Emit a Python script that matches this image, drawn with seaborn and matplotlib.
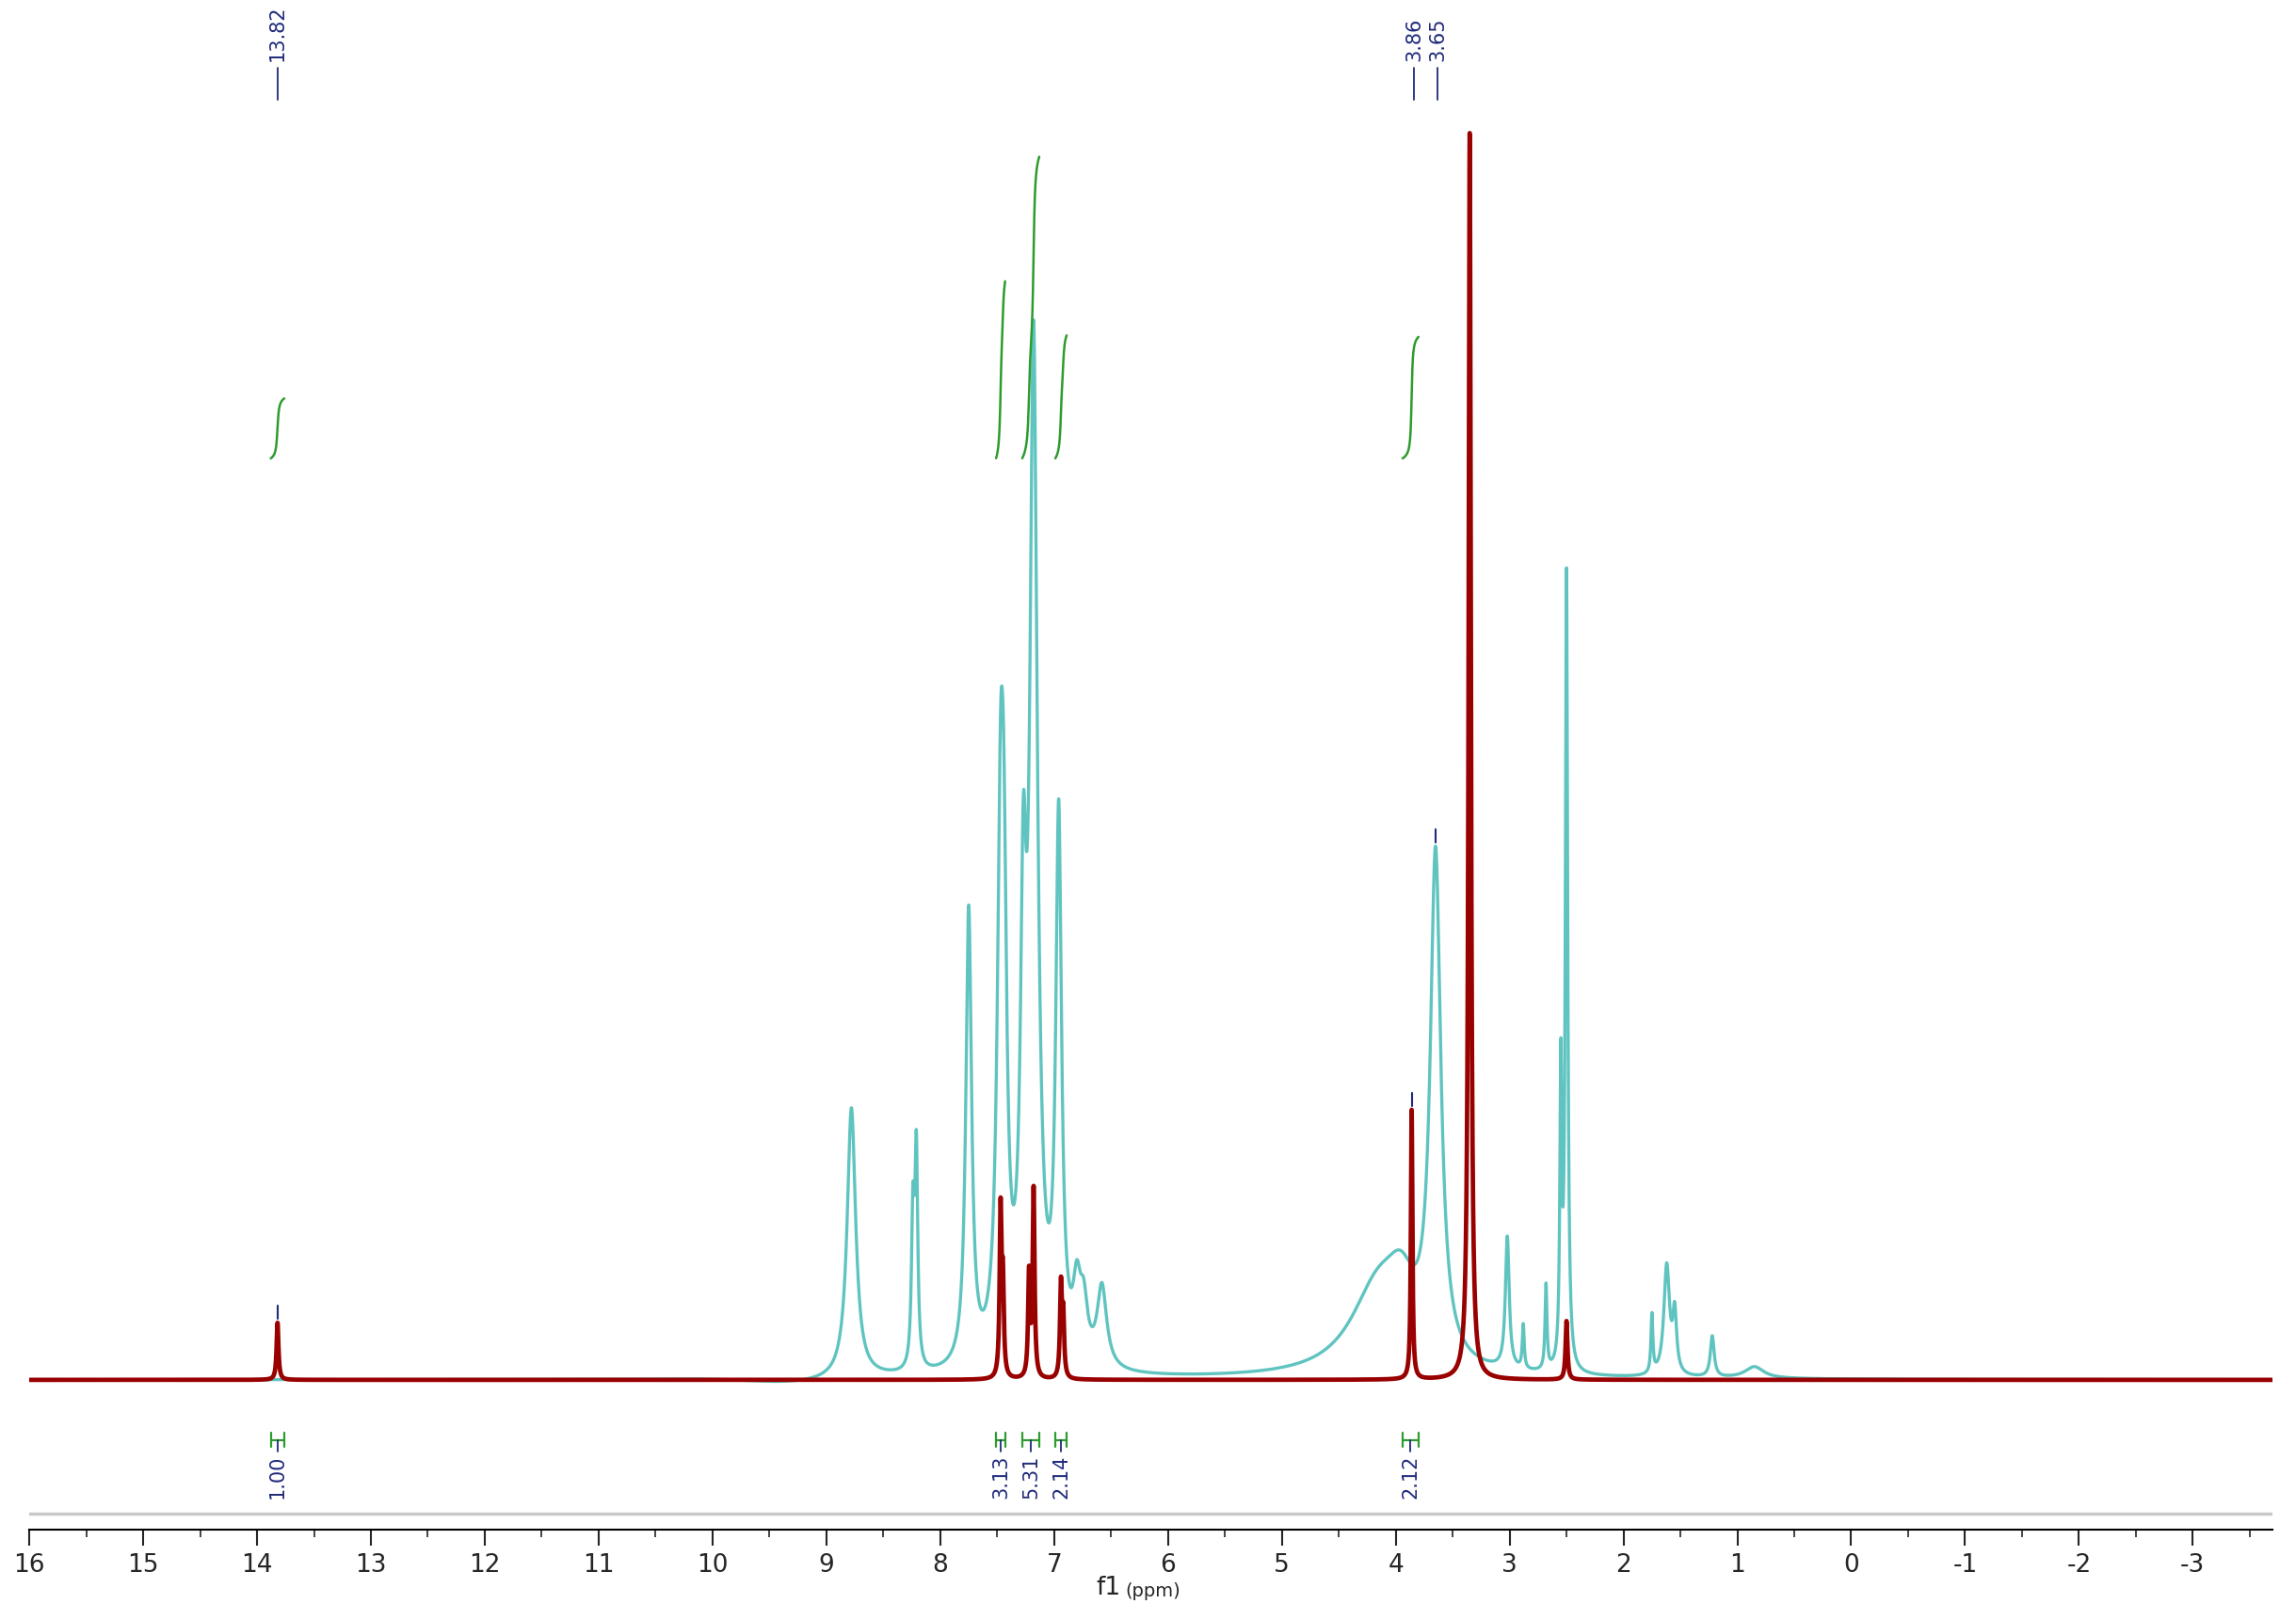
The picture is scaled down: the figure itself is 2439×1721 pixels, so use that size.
import numpy as np
import pandas as pd
import matplotlib
matplotlib.use("Agg")
import matplotlib.pyplot as plt
import seaborn as sns

sns.set_style("white")
plt.rcParams['font.family'] = ['DejaVu Sans']

# ---- data (ppm, height, half-width) ----
red_pos = [13.82, 7.47, 7.45, 7.22, 7.18, 6.94, 6.92, 3.86, 3.35, 2.50]
red_h   = [39, 112, 60, 70, 128, 62, 40, 184, 852, 40]
red_w   = [0.010, 0.010, 0.010, 0.010, 0.010, 0.010, 0.010, 0.008, 0.012, 0.010]

cyan_pos = [8.78, 8.24, 8.21, 7.75, 7.47, 7.44, 7.27, 7.18, 6.96, 6.80, 6.74, 6.58,
            4.15, 3.95, 3.65, 3.02, 2.88, 2.68, 2.55, 2.50, 1.75, 1.62, 1.55, 1.22, 0.85]
cyan_h   = [185, 100, 145, 311, 327, 210, 265, 680, 364, 45, 35, 55,
            60, 35, 341, 90, 30, 58, 200, 543, 40, 75, 40, 28, 8]
cyan_w   = [0.045, 0.015, 0.015, 0.03, 0.035, 0.03, 0.03, 0.04, 0.03, 0.04, 0.04, 0.05,
            0.30, 0.15, 0.055, 0.02, 0.01, 0.01, 0.01, 0.012, 0.01, 0.03, 0.02, 0.02, 0.1]

peak_labels = ["13.82", "3.86", "3.65"]
peak_label_pos = [13.82, 3.86, 3.65]
peak_label_tops = [39, 184, 364]
peak_text_x = [13.82, 3.84, 3.63]

integ_start = [13.88, 7.51, 7.28, 6.99, 3.94]
integ_end   = [13.76, 7.43, 7.13, 6.89, 3.80]
integ_height = [41, 121, 206, 84, 83]
integ_labels = ["1.00", "3.13", "5.31", "2.14", "2.12"]

tick_vals = list(range(16, -4, -1))

RED = "#990000"
CYAN = "#5fc4c0"
GREEN = "#2e9b2e"
NAVY = "#1f2a7a"

ppm = np.linspace(16, -3.7, 24000)

def lor(pos, h, w):
    y = np.zeros_like(ppm)
    for p, a, ww in zip(pos, h, w):
        y += a / (1 + ((ppm - p) / ww) ** 2)
    return y

cyan_y = lor(cyan_pos, cyan_h, cyan_w) - 3 * np.exp(-((ppm - 9.3) / 0.5) ** 2)
red_y = lor(red_pos, red_h, red_w)

df_c = pd.DataFrame({"ppm": ppm, "I": cyan_y})
df_r = pd.DataFrame({"ppm": ppm, "I": red_y})

fig = plt.figure(figsize=(24.39, 17.21), dpi=100)
ax = fig.add_axes([0.01276, 0.056, 0.977, 0.944])
sns.lineplot(data=df_c, x="ppm", y="I", ax=ax, color=CYAN, lw=2.4, estimator=None, sort=False)
sns.lineplot(data=df_r, x="ppm", y="I", ax=ax, color=RED, lw=3.4, estimator=None, sort=False)

ax.set_xlim(16, -3.7)
ax.set_ylim(-102, 942)

# integral curves
for s, e, hh in zip(integ_start, integ_end, integ_height):
    m = (ppm <= s) & (ppm >= e)
    seg = red_y[m] + 0.5
    cum = np.cumsum(seg)
    cum = cum / cum[-1] * hh
    ax.plot(ppm[m], 629 + cum, color=GREEN, lw=1.8)

# peak markers and labels
for p, top in zip(peak_label_pos, peak_label_tops):
    ax.plot([p, p], [top + 3, top + 12], color=NAVY, lw=1.5)
for lab, x in zip(peak_labels, peak_text_x):
    ax.plot([x, x], [874, 896], color=NAVY, lw=1.3)
    ax.text(x, 900, lab, rotation=90, ha="center", va="bottom", color=NAVY, fontsize=15)

# integration brackets below
for s, e, lab in zip(integ_start, integ_end, integ_labels):
    yb = -41
    ax.plot([s, e], [yb, yb], color=GREEN, lw=1.6)
    ax.plot([s, s], [yb - 5, yb + 5], color=GREEN, lw=1.6)
    ax.plot([e, e], [yb - 5, yb + 5], color=GREEN, lw=1.6)
    mid = (s + e) / 2
    ax.plot([mid, mid], [yb, yb - 8], color=NAVY, lw=1.3)
    ax.text(mid, yb - 10, lab, rotation=90, ha="center", va="top", color=NAVY, fontsize=15)

# gray separator line
ax.axhline(-91, color="#c8c8c8", lw=2.5)

for sp in ["top", "left", "right"]:
    ax.spines[sp].set_visible(False)
ax.spines["bottom"].set_color("black")
ax.spines["bottom"].set_linewidth(1.5)
ax.set_yticks([])
ax.set_xticks(tick_vals)
ax.set_xticklabels([str(t) for t in tick_vals], fontsize=19)
ax.set_xticks(np.arange(15.5, -3.7, -1.0), minor=True)
ax.tick_params(axis="x", which="major", direction="out", length=12, width=1.5, bottom=True, pad=6)
ax.tick_params(axis="x", which="minor", direction="out", length=6, width=1.2, bottom=True)
ax.set_xlabel("")
ax.set_ylabel("")
fig.text(0.488, 0.012, "f1", fontsize=19, ha="right", va="bottom")
fig.text(0.49, 0.012, "(ppm)", fontsize=14, ha="left", va="bottom")

fig.savefig("out.png", dpi=100)
